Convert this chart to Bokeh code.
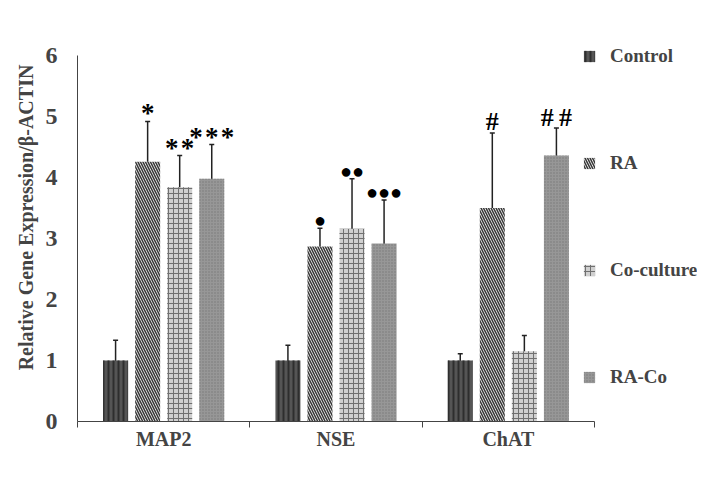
from bokeh.plotting import figure
from bokeh.models import (Range1d, FixedTicker, Whisker, TeeHead, ColumnDataSource,
                          Legend, LegendItem)
from bokeh.core.properties import value
from bokeh.embed import file_html
from bokeh.resources import INLINE

# ---- data ----
genes = ["MAP2", "NSE", "ChAT"]
groups = ["Control", "RA", "Co-culture", "RA-Co"]
means = {
    "Control":    [1.00, 1.00, 1.00],
    "RA":         [4.26, 2.87, 3.50],
    "Co-culture": [3.84, 3.16, 1.15],
    "RA-Co":      [3.98, 2.92, 4.36],
}
errors = {
    "Control":    [0.33, 0.25, 0.11],
    "RA":         [0.66, 0.30, 1.23],
    "Co-culture": [0.52, 0.82, 0.26],
    "RA-Co":      [0.56, 0.71, 0.45],
}
marks = {
    "Control":    ["", "", ""],
    "RA":         ["*", "\u25cf", "#"],
    "Co-culture": ["*\u200a*", "\u25cf\u25cf", ""],
    "RA-Co":      ["*\u200a*\u200a*", "\u25cf\u25cf\u25cf", "#\u2009#"],
}
y_ticks = [0, 1, 2, 3, 4, 5, 6]
y_title = "Relative Gene Expression/\u03b2-ACTIN"

# ---- styles ----
offsets = [-0.279, -0.093, 0.093, 0.279]
bar_w = 0.145
styles = {
    "Control":    dict(fill_color="#555555", hatch_pattern="|", hatch_color="#2e2e2e", hatch_scale=5, hatch_weight=2),
    "RA":         dict(fill_color="#ffffff", hatch_pattern="\\", hatch_color="#3a3a3a", hatch_scale=5, hatch_weight=1.6),
    "Co-culture": dict(fill_color="#d0d0d0", hatch_pattern="+", hatch_color="#707070", hatch_scale=5, hatch_weight=1),
    "RA-Co":      dict(fill_color="#979797", hatch_pattern=".", hatch_color="#767676", hatch_scale=3, hatch_weight=1),
}
mark_style = {"*": ("27px", -8), "\u25cf": ("20px", -8), "#": ("26px", -11)}
FONT = "Liberation Serif"

p = figure(width=697, height=497, output_backend="svg", toolbar_location=None,
           x_range=Range1d(0, 3 * 620 / 517), y_range=Range1d(0, 6 * 408 / 366),
           min_border_left=77, min_border_right=0, min_border_top=13, min_border_bottom=76)
p.outline_line_color = None
p.grid.grid_line_color = None
p.background_fill_color = "white"

items = []
for gi, g in enumerate(groups):
    xs = [i + 0.5 + offsets[gi] for i in range(len(genes))]
    m = means[g]
    e = errors[g]
    mk = marks[g]
    src = ColumnDataSource(dict(
        x=xs, top=m, lo=[a - b for a, b in zip(m, e)], hi=[a + b for a, b in zip(m, e)], mk=mk,
        fs=[mark_style[s[0]][0] if s else "10px" for s in mk],
        yo=[mark_style[s[0]][1] if s else 0 for s in mk]))
    r = p.vbar(x="x", top="top", bottom=0, width=bar_w, source=src,
               line_color=None, **styles[g])
    items.append(LegendItem(label=g, renderers=[r]))
    w = Whisker(base="x", lower="lo", upper="hi", source=src, line_color="#222222", line_width=1.5,
                upper_head=TeeHead(size=5, line_width=1.5, line_color="#222222"),
                lower_head=TeeHead(size=5, line_width=1.5, line_color="#222222"))
    p.add_layout(w)
    p.text(x="x", y="hi", text="mk", source=src, text_align="center", text_baseline="middle",
           y_offset="yo", text_font=value(FONT), text_font_size="fs", text_font_style="bold",
           text_color="black")

# axes
xa = p.xaxis[0]
xa.bounds = (0, 3)
xa.ticker = FixedTicker(ticks=[0.5, 1.5, 2.5], minor_ticks=[0, 1, 2, 3])
xa.major_label_overrides = {0.5: genes[0], 1.5: genes[1], 2.5: genes[2]}
xa.major_tick_out = 0
xa.major_tick_in = 0
xa.minor_tick_out = 6
xa.minor_tick_in = 0
xa.minor_tick_line_color = "#444444"
xa.axis_line_color = "#444444"
xa.major_label_text_font = FONT
xa.major_label_text_font_style = "bold"
xa.major_label_text_font_size = "20px"
xa.major_label_standoff = 0

ya = p.yaxis[0]
ya.bounds = (0, 6)
ya.ticker = FixedTicker(ticks=y_ticks)
ya.major_tick_out = 0
ya.major_tick_in = 0
ya.minor_tick_line_color = None
ya.axis_line_color = "#444444"
ya.major_label_text_font = FONT
ya.major_label_text_font_style = "bold"
ya.major_label_text_font_size = "24px"
ya.major_label_standoff = 20
ya.axis_label = y_title
ya.axis_label_text_font = FONT
ya.axis_label_text_font_style = "bold"
ya.axis_label_text_font_size = "20px"
ya.axis_label_standoff = 6

legend = Legend(items=items, location=(505, 33), orientation="vertical",
                glyph_width=14, glyph_height=14, label_height=20, spacing=85,
                label_standoff=14, padding=0, margin=0,
                label_text_font=FONT, label_text_font_style="bold", label_text_font_size="19px",
                background_fill_alpha=0, border_line_color=None)
p.add_layout(legend, "center")

open("out.html", "w").write(file_html(p, INLINE))
